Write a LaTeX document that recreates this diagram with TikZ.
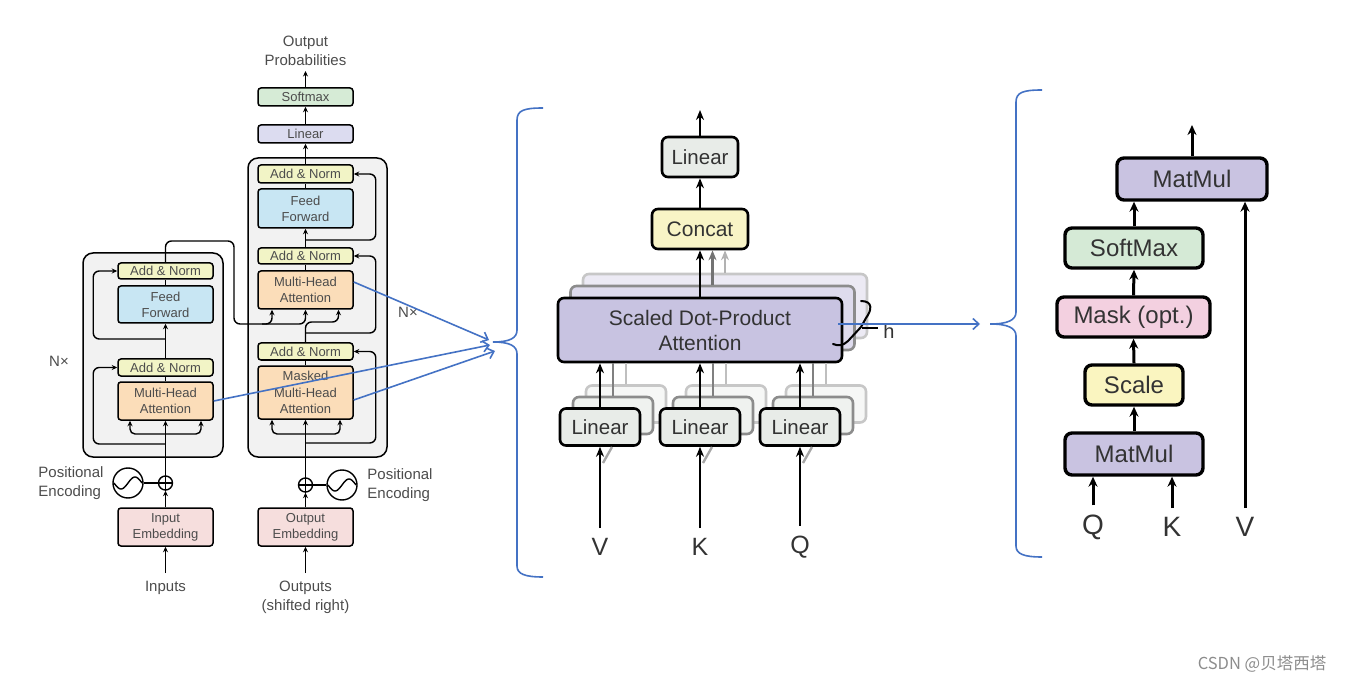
\documentclass[tikz,border=0pt]{standalone}
\usepackage{fontspec}
\setmainfont{Liberation Sans}
\newfontfamily\cjkfont{Noto Sans CJK SC}
\usetikzlibrary{arrows.meta}
\definecolor{addc}{HTML}{F2F4C6}
\definecolor{ffc}{HTML}{C8E6F3}
\definecolor{mhac}{HTML}{FBDDB9}
\definecolor{embc}{HTML}{F6DEDD}
\definecolor{linc}{HTML}{DCDCF0}
\definecolor{smc}{HTML}{D6EBD6}
\definecolor{outc}{HTML}{F2F2F2}
\definecolor{mlinc}{HTML}{E8ECE8}
\definecolor{catc}{HTML}{F8F4C6}
\definecolor{sdpac}{HTML}{C8C3E1}
\definecolor{mmc}{HTML}{C9C3E1}
\definecolor{smrc}{HTML}{D5EAD6}
\definecolor{maskc}{HTML}{F3D0E0}
\definecolor{scalec}{HTML}{FAF5C0}
\definecolor{myblue}{HTML}{4472C4}
\definecolor{txt}{HTML}{4C4C4C}
\definecolor{txt2}{HTML}{333333}
\begin{document}
\begin{tikzpicture}[x=1pt,y=-1pt,
 lbox/.style={draw=black, line width=1.5pt, rounded corners=3pt, inner sep=0pt, align=center, text=txt, font=\fontsize{13}{16}\selectfont, minimum width=95pt},
 mbox/.style={draw=black, line width=2.6pt, rounded corners=6pt, inner sep=0pt, align=center, text=txt2, font=\fontsize{20.5}{25}\selectfont},
 rbox/.style={draw=black, line width=3.4pt, rounded corners=7pt, inner sep=0pt, align=center, text=txt2, font=\fontsize{24}{28}\selectfont},
 ltext/.style={text=txt, font=\fontsize{15}{19}\selectfont, align=center, inner sep=0pt},
 larr/.style={-{Stealth[length=5.5pt,width=5pt]}, line width=1.4pt},
 lline/.style={line width=1.4pt},
 marr/.style={-{Stealth[length=10pt,width=8pt]}, line width=2.4pt},
 rarr/.style={-{Stealth[length=10pt,width=9pt]}, line width=3pt},
 bline/.style={draw=myblue, line width=1.6pt},
 barr/.style={bline, -{Straight Barb[length=6pt,width=11pt]}},
 obox/.style={draw=black, line width=1.5pt, fill=outc, rounded corners=10pt, inner sep=0pt},
 circ/.style={circle, draw=black, line width=1.4pt, inner sep=0pt}
]
\useasboundingbox (0,0) rectangle (1346,684);

% ================= Encoder =================
\node[obox, minimum width=140pt, minimum height=204pt] (encbox) at (153,355) {};
\node[lbox, fill=addc, minimum height=16pt] (ean2) at (165.5,271) {Add \& Norm};
\node[lbox, fill=ffc, minimum height=37pt] (eff) at (165.5,304.5) {Feed\\Forward};
\node[lbox, fill=addc, minimum height=17pt] (ean1) at (165.5,367.5) {Add \& Norm};
\node[lbox, fill=mhac, minimum height=38pt] (emha) at (165.5,401) {Multi-Head\\Attention};
\node[lbox, fill=embc, minimum height=38pt] (eemb) at (165.5,527) {Input\\Embedding};
\node[circ, minimum size=30pt] (esin) at (128,483) {};
\node[circ, minimum size=14pt] (eplus) at (165.5,483) {};
\draw[lline] (eplus.north) -- (eplus.south) (eplus.west) -- (eplus.east);
\draw[lline, shift={(esin.center)}] plot[domain=-14:14, samples=40] (\x, {-6*sin(\x*180/14)});
\draw[lline] (esin.east) -- (eplus.west);
\node[ltext, align=left] (epos) at (71,483) {Positional\\Encoding};
\node[ltext] (einp) at (165.5,588) {Inputs};
\coordinate (einq) at (165.5,573);
\node[ltext] (enx) at (59,361) {N×};

\draw[larr] (einq) -- (eemb.south);
\draw[larr] (eemb.north) -- (eplus.south);
\draw[larr] (eplus.north) -- (emha.south);
\draw[larr, rounded corners=5pt] (165.5,434) -| ([xshift=-35.5pt]emha.south);
\draw[larr, rounded corners=5pt] (165.5,434) -| ([xshift=35.5pt]emha.south);
\draw[larr, rounded corners=6pt] (165.5,444) -| ([xshift=-24pt]ean1.west) -- (ean1.west);
\draw[lline] (emha.north) -- (ean1.south);
\draw[larr] (ean1.north) -- (eff.south);
\draw[larr, rounded corners=6pt] (165.5,339) -| ([xshift=-24pt]ean2.west) -- (ean2.west);
\draw[lline] (eff.north) -- (ean2.south);

% ================= Decoder =================
\node[obox, minimum width=139pt, minimum height=299pt] (decbox) at (317.5,307.5) {};
\node[lbox, fill=smc, minimum height=18pt] (dsm) at (305.5,97) {Softmax};
\node[lbox, fill=linc, minimum height=18pt] (dlin) at (305.5,134) {Linear};
\node[lbox, fill=addc, minimum height=18pt] (dan3) at (305.5,174) {Add \& Norm};
\node[lbox, fill=ffc, minimum height=39pt] (dff) at (305.5,208.5) {Feed\\Forward};
\node[lbox, fill=addc, minimum height=16pt] (dan2) at (305.5,256) {Add \& Norm};
\node[lbox, fill=mhac, minimum height=38pt] (dmha) at (305.5,290) {Multi-Head\\Attention};
\node[lbox, fill=addc, minimum height=17pt] (dan1) at (305.5,351.5) {Add \& Norm};
\node[lbox, fill=mhac, minimum height=53pt, font=\fontsize{13}{16.5}\selectfont] (dmmha) at (305.5,392.5) {Masked\\Multi-Head\\Attention};
\node[lbox, fill=embc, minimum height=38pt] (demb) at (305.5,527) {Output\\Embedding};
\node[circ, minimum size=14pt] (dplus) at (305.5,485) {};
\node[circ, minimum size=30pt] (dsin) at (342,485) {};
\draw[lline] (dplus.north) -- (dplus.south) (dplus.west) -- (dplus.east);
\draw[lline, shift={(dsin.center)}] plot[domain=-14:14, samples=40] (\x, {-6*sin(\x*180/14)});
\draw[lline] (dplus.east) -- (dsin.west);
\node[ltext, align=left] (dpos) at (400,485.5) {Positional\\Encoding};
\node[ltext] (doutp) at (305.5,597) {Outputs\\(shifted right)};
\coordinate (doutq) at (305.5,573);
\node[ltext] (dprob) at (305.5,51) {Output\\Probabilities};
\coordinate (dtop) at (305.5,71);
\node[ltext] (dnx) at (408,312) {N×};

\draw[larr] (doutq) -- (demb.south);
\draw[larr] (demb.north) -- (dplus.south);
\draw[larr] (dplus.north) -- (dmmha.south);
\draw[larr, rounded corners=5pt] (305.5,434) -| ([xshift=-33.5pt]dmmha.south);
\draw[larr, rounded corners=5pt] (305.5,434) -| ([xshift=34.5pt]dmmha.south);
\draw[larr, rounded corners=6pt] (305.5,443) -| ([xshift=22pt]dan1.east) -- (dan1.east);
\draw[lline] (dmmha.north) -- (dan1.south);
\draw[larr, rounded corners=6pt] (dan1.north) |- (338.5,322) -- ([xshift=33pt]dmha.south);
\draw[larr, rounded corners=6pt] (305.5,333) -| ([xshift=22pt]dan2.east) -- (dan2.east);
\draw[larr, rounded corners=6pt] (ean2.north) |- (234,241) -- (234,324) -| ([xshift=-33.5pt]dmha.south);
\draw[larr, rounded corners=6pt] (262,324) -| (dmha.south);
\draw[lline] (dmha.north) -- (dan2.south);
\draw[larr] (dan2.north) -- (dff.south);
\draw[larr, rounded corners=6pt] (305.5,240) -| ([xshift=22pt]dan3.east) -- (dan3.east);
\draw[lline] (dff.north) -- (dan3.south);
\draw[larr] (dan3.north) -- (dlin.south);
\draw[larr] (dlin.north) -- (dsm.south);
\draw[larr] (dsm.north) -- (dtop);

% ================= Multi-head attention =================
\node[mbox, fill=mlinc, minimum width=76pt, minimum height=40pt] (mlin) at (700,157) {Linear};
\node[mbox, fill=catc, minimum width=96pt, minimum height=40pt, font=\fontsize{21}{25}\selectfont] (mcat) at (700,229) {Concat};
\coordinate (mtop) at (700,110);
\node[mbox, draw=black!22, fill=sdpac!35, minimum width=284pt, minimum height=64pt] (sdpa3) at (725,306) {};
\node[mbox, draw=black!45, fill=sdpac!60, minimum width=284pt, minimum height=64pt] (sdpa2) at (712.5,318) {};
\draw[marr, draw=black!30, color=black!30] (sdpa3.north) -- (sdpa3.north |- mcat.south);
\draw[marr, draw=black!55, color=black!55] (sdpa2.north) -- (sdpa2.north |- mcat.south);
\node[mbox, fill=sdpac, minimum width=284pt, minimum height=64pt, font=\fontsize{21}{25}\selectfont] (sdpa) at (700,330) {Scaled Dot-Product\\Attention};
\draw[marr] (sdpa.north) -- (mcat.south);
\draw[marr] (mcat.north) -- (mlin.south);
\draw[marr] (mlin.north) -- (mtop);

\foreach \n/\x/\t in {l1/600/V,l2/700/K,l3/800/Q}{
  \node[mbox, draw=black!22, fill=mlinc!40, minimum width=80pt, minimum height=37pt] (\n-c3) at ({\x+26},404) {};
  \node[mbox, draw=black!45, fill=mlinc!70, minimum width=80pt, minimum height=37pt] (\n-c2) at ({\x+13},415.5) {};
  \draw[line width=2.4pt, black!25] (\n-c3.north) -- (\n-c3.north |- sdpa.south);
  \draw[line width=2.4pt, black!50] (\n-c2.north) -- (\n-c2.north |- sdpa.south);
  \node[mbox, fill=mlinc, minimum width=80pt, minimum height=37pt] (\n) at (\x,427) {Linear};
  \draw[marr] (\n.north) -- (\n.north |- sdpa.south);
  \node[text=txt2, font=\fontsize{25}{25}\selectfont, inner sep=0pt] (\n-in) at (\x,547) {\t};
  \draw[line width=2.4pt, black!35] ({\x+3},463) -- ({\x+12},447);
  \draw[marr] ([yshift=10pt]\n-in.north) -- (\n.south);
}
% h brace
\draw[line width=2pt, line cap=round] (861,301) .. controls (873,301) and (872,310) .. (866,318) -- (861,327) -- (848,341) .. controls (843,346) and (838,346) .. (833,344);
\draw[line width=1.6pt] (862,328) -- (878,328);
\node[text=txt2, font=\fontsize{20}{20}\selectfont, inner sep=0pt] (hlab) at (889,331) {h};

% ================= Scaled dot-product attention =================
\node[rbox, fill=mmc, minimum width=150pt, minimum height=42pt] (mm2) at (1192,179) {MatMul};
\node[rbox, fill=smrc, minimum width=138pt, minimum height=40pt] (rsm) at (1134,248) {SoftMax};
\node[rbox, fill=maskc, minimum width=153pt, minimum height=40pt] (rmask) at (1133.5,317) {Mask (opt.)};
\node[rbox, fill=scalec, minimum width=98pt, minimum height=40pt] (rscale) at (1134,385) {Scale};
\node[rbox, fill=mmc, minimum width=138pt, minimum height=42pt] (mm1) at (1134,454) {MatMul};
\coordinate (rtop) at (1192,125);
\node[text=txt2, font=\fontsize{28}{28}\selectfont, inner sep=0pt] (rq) at (1093,527) {Q};
\node[text=txt2, font=\fontsize{28}{28}\selectfont, inner sep=0pt] (rk) at (1172,527) {K};
\node[text=txt2, font=\fontsize{28}{28}\selectfont, inner sep=0pt] (rv) at (1245,527) {V};
\draw[rarr] (mm1.north) -- (rscale.south);
\draw[rarr] (rscale.north) -- (rmask.south);
\draw[rarr] (rmask.north) -- (rsm.south);
\draw[rarr] (rsm.north) -- (rsm.north |- mm2.south);
\draw[rarr] (mm2.north) -- (rtop);
\draw[rarr] ([yshift=9pt]rq.north) -- (rq.north |- mm1.south);
\draw[rarr] ([yshift=9pt]rk.north) -- (rk.north |- mm1.south);
\draw[rarr] ([yshift=9pt]rv.north) -- (rv.north |- mm2.south);

% ================= Blue braces and arrows =================
\coordinate (t1) at (489,340);
\coordinate (t2) at (490,345);
\coordinate (t3) at (495,351);
\draw[barr] ([yshift=8pt]dmha.east) -- (t1);
\draw[barr] (emha.east) -- (t2);
\draw[barr] ([yshift=-7.5pt]dmmha.east) -- (t3);
\draw[bline] (543,108) .. controls (525,108) and (517,110) .. (517,120) -- (517,330) .. controls (517,338) and (510,342) .. (493,342) .. controls (510,342) and (517,346) .. (517,354) -- (517,566) .. controls (517,574) and (525,577) .. (543,577);
\coordinate (t4) at (980,324);
\draw[barr] ([xshift=-5pt,yshift=6pt]sdpa.east) -- (t4);
\draw[bline] (1042,90) .. controls (1024,90) and (1016,92) .. (1016,102) -- (1016,312) .. controls (1016,320) and (1008,324) .. (990,324) .. controls (1008,324) and (1016,328) .. (1016,336) -- (1016,546) .. controls (1016,554) and (1024,557) .. (1042,557);

\node[text=black!45, font=\cjkfont\fontsize{16.5}{16.5}\selectfont, inner sep=0pt] (wm) at (1262,664) {CSDN @贝塔西塔};
\end{tikzpicture}
\end{document}
